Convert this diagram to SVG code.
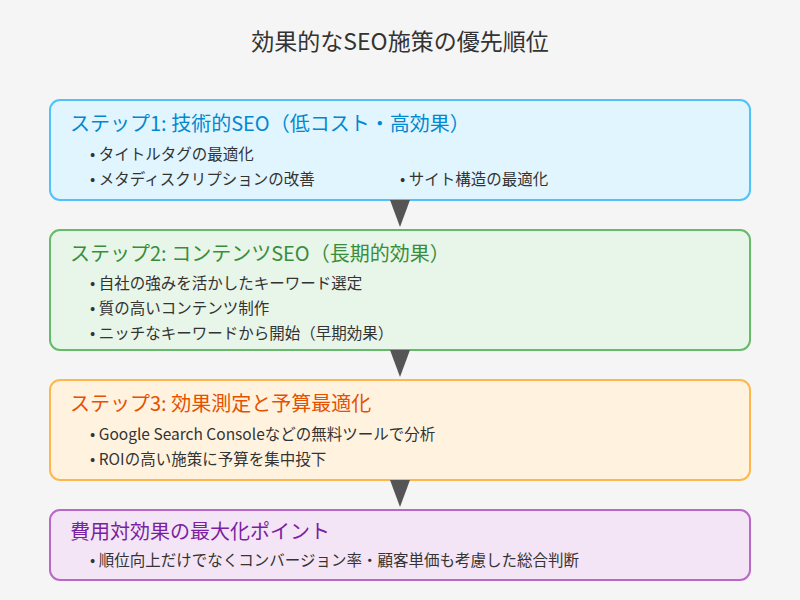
<svg xmlns="http://www.w3.org/2000/svg" width="800" height="600" viewBox="0 0 800 600">
<style>
text{font-family:"Noto Sans CJK JP","Noto Sans",sans-serif}
.t{font-size:20px}
.b{font-size:15.5px;fill:#333}
.box{stroke-width:2}
</style>
<rect x="0" y="0" width="800" height="600" fill="#f5f5f5"/>
<text x="400" y="50" text-anchor="middle" font-size="23" fill="#333">効果的なSEO施策の優先順位</text>
<g id="step1">
<rect class="box" x="50" y="100" width="700" height="100" rx="10" fill="#e1f5fe" stroke="#4fc3f7"/>
<text class="t" x="70" y="131" fill="#0288d1">ステップ1: 技術的SEO（低コスト・高効果）</text>
<text class="b" x="90" y="160">• タイトルタグの最適化</text>
<text class="b" x="90" y="185">• メタディスクリプションの改善</text>
<text class="b" x="400" y="185">• サイト構造の最適化</text>
</g>
<g id="step2">
<rect class="box" x="50" y="230" width="700" height="120" rx="10" fill="#e8f5e9" stroke="#66bb6a"/>
<text class="t" x="70" y="261" fill="#388e3c">ステップ2: コンテンツSEO（長期的効果）</text>
<text class="b" x="90" y="289">• 自社の強みを活かしたキーワード選定</text>
<text class="b" x="90" y="314">• 質の高いコンテンツ制作</text>
<text class="b" x="90" y="339">• ニッチなキーワードから開始（早期効果）</text>
</g>
<g id="step3">
<rect class="box" x="50" y="380" width="700" height="100" rx="10" fill="#fff3e0" stroke="#ffb74d"/>
<text class="t" x="70" y="411" fill="#e65100">ステップ3: 効果測定と予算最適化</text>
<text class="b" x="90" y="440">• Google Search Consoleなどの無料ツールで分析</text>
<text class="b" x="90" y="465">• ROIの高い施策に予算を集中投下</text>
</g>
<g id="point">
<rect class="box" x="50" y="510" width="700" height="70" rx="10" fill="#f3e5f5" stroke="#ba68c8"/>
<text class="t" x="70" y="539" fill="#7b1fa2">費用対効果の最大化ポイント</text>
<text class="b" x="90" y="566">• 順位向上だけでなくコンバージョン率・顧客単価も考慮した総合判断</text>
</g>
<g id="connectors" fill="#555">
<polygon points="390,200 410,200 400,227"/>
<polygon points="390,350 410,350 400,377"/>
<polygon points="390,480 410,480 400,507"/>
</g>
</svg>
